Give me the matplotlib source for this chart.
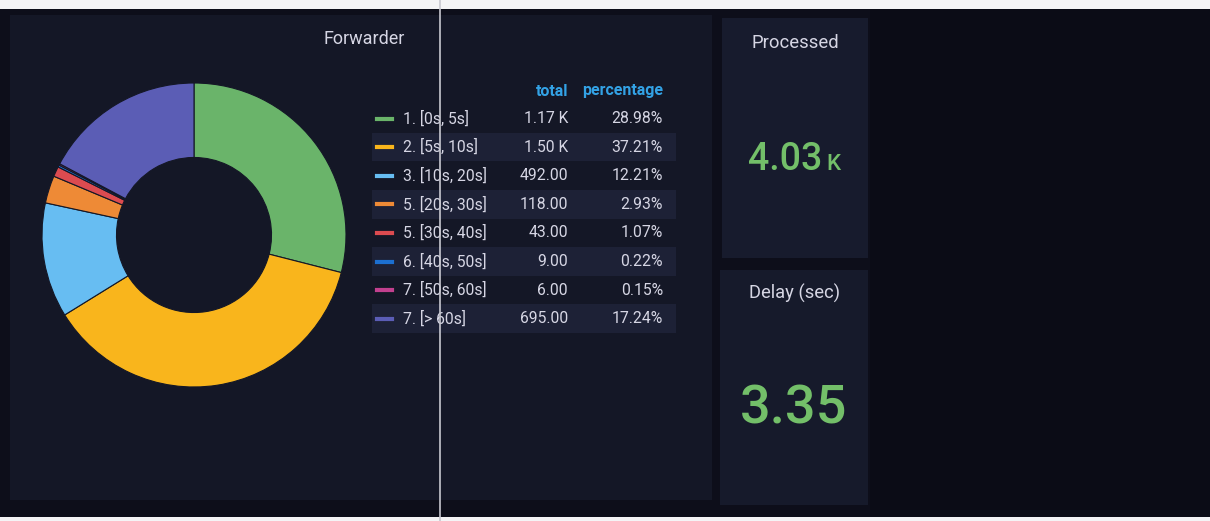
import numpy as np
import matplotlib.pyplot as plt
from matplotlib.patches import Rectangle
from matplotlib.lines import Line2D

plt.rcParams['font.family'] = ['Roboto', 'DejaVu Sans']

labels = ["1. [0s, 5s]", "2. [5s, 10s]", "3. [10s, 20s]", "5. [20s, 30s]",
          "5. [30s, 40s]", "6. [40s, 50s]", "7. [50s, 60s]", "7. [> 60s]"]
totals = [1168, 1500, 492, 118, 43, 9, 6, 695]
colors = ["#6AB46A", "#F9B51C", "#67BDF2", "#EE8A36",
          "#DC4B50", "#1C6FD0", "#C2408F", "#5B5DB5"]
processed_value = "4.03"
processed_unit = "K"
delay_value = "3.35"

W, H = 1210, 521
fig = plt.figure(figsize=(W / 100, H / 100), dpi=100)
fig.patch.set_facecolor("#f4f4f6")

def px_rect(x0, y0, x1, y1, color, z=0):
    # rectangle given in pixel coords from the top-left corner
    fig.add_artist(Rectangle((x0 / W, 1 - y1 / H), (x1 - x0) / W, (y1 - y0) / H,
                             transform=fig.transFigure, facecolor=color,
                             edgecolor="none", zorder=z))

def px_text(x, y, s, **kw):
    fig.text(x / W, 1 - y / H, s, **kw)

# background and panels
px_rect(0, 9, W, 517, "#0d0e1a", 0)
px_rect(870, 9, W, 517, "#0b0c16", 0.5)
px_rect(10, 15, 712, 500, "#141726", 1)
px_rect(722, 18, 868, 258, "#171b2d", 1)
px_rect(720, 270, 868, 505, "#161a2b", 1)

# pie
ax = fig.add_axes([42 / W, 1 - 387 / H, 304 / W, 304 / H])
ax.set_zorder(5)
ax.set_facecolor("none")
ax.pie(totals, colors=colors, startangle=90, counterclock=False,
       wedgeprops=dict(width=0.49, edgecolor="#141726", linewidth=0.8))
ax.set_aspect("equal")
ax.set_xlim(-1.0, 1.0)
ax.set_ylim(-1.0, 1.0)
ax.axis("off")

txt = "#d6d6e4"
px_text(364, 39, "Forwarder", color=txt, fontsize=13, ha="center", va="center", zorder=3)

# legend table
total_sum = sum(totals)
px_text(568, 91, "total", color="#33a2e5", fontsize=11.5, fontweight="bold", ha="right", va="center", zorder=3)
px_text(663, 91, "percentage", color="#33a2e5", fontsize=11.5, fontweight="bold", ha="right", va="center", zorder=3)
row_y = 118.5
row_h = 28.6
for i, (lab, tot, col) in enumerate(zip(labels, totals, colors)):
    y = row_y + i * row_h
    if i % 2 == 1:
        px_rect(372, y - row_h / 2, 676, y + row_h / 2, "#1d2136", 2)
    fig.add_artist(Line2D([377 / W, 392 / W], [1 - y / H, 1 - y / H], color=col,
                          linewidth=3, transform=fig.transFigure, zorder=3))
    px_text(403, y, lab, color=txt, fontsize=11.3, ha="left", va="center", zorder=3)
    tot_txt = f"{tot / 1000:.2f} K" if tot >= 1000 else f"{tot:.2f}"
    px_text(568, y, tot_txt, color=txt, fontsize=11.3, ha="right", va="center", zorder=3)
    px_text(663, y, f"{tot / total_sum * 100:.2f}%", color=txt, fontsize=11.3,
            ha="right", va="center", zorder=3)

# stat panels
px_text(795, 43, "Processed", color=txt, fontsize=13.3, ha="center", va="center", zorder=3)
px_text(822, 160, processed_value, color="#73BF69", fontsize=27, fontweight="medium",
        ha="right", va="center", zorder=3)
px_text(826, 164, processed_unit, color="#73BF69", fontsize=16, fontweight="medium",
        ha="left", va="center", zorder=3)
px_text(795, 293, "Delay (sec)", color=txt, fontsize=13.2, ha="center", va="center", zorder=3)
px_text(794, 409, delay_value, color="#73BF69", fontsize=39, fontweight="medium",
        ha="center", va="center", zorder=3)

# scan line artefact
fig.add_artist(Line2D([440 / W, 440 / W], [0, 1], color="#c8c8d0", linewidth=1.2,
                      transform=fig.transFigure, zorder=6))

fig.savefig("out.png", dpi=100, facecolor=fig.get_facecolor())
